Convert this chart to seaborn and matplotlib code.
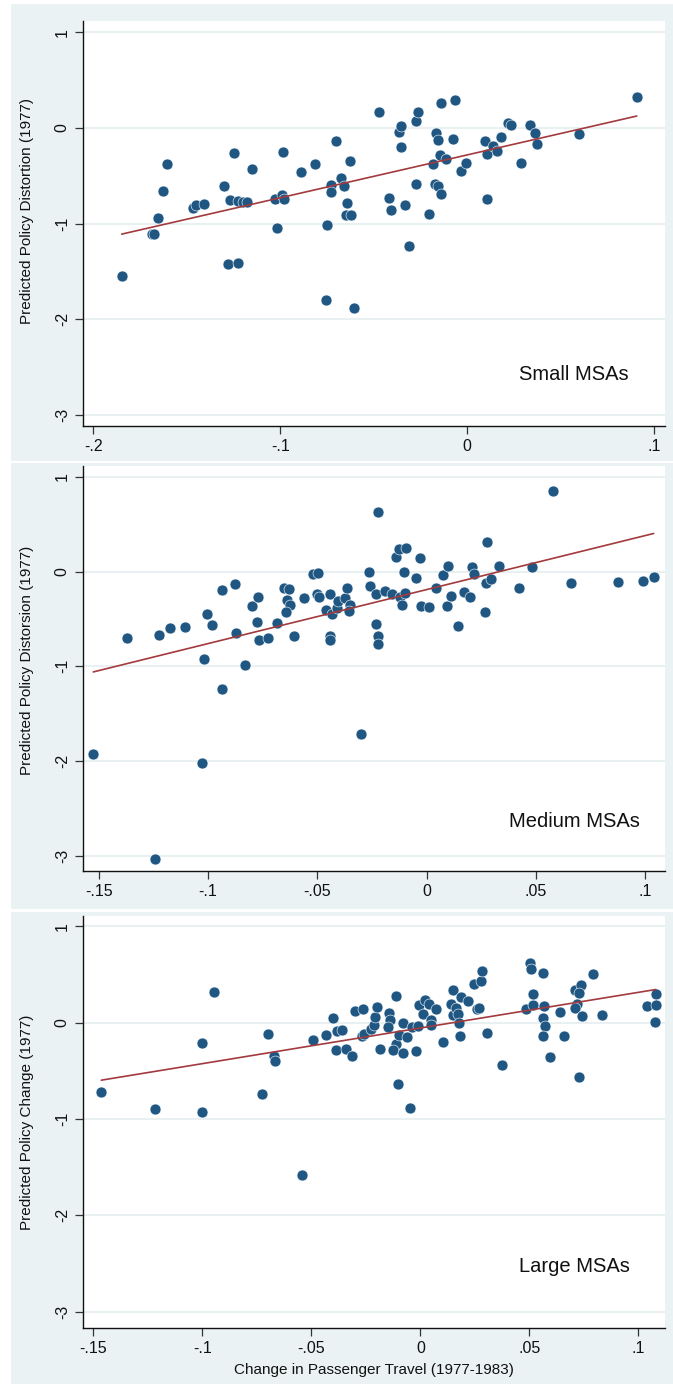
import numpy as np
import pandas as pd
import matplotlib
matplotlib.use("Agg")
import matplotlib.pyplot as plt
from matplotlib.patches import Rectangle
import seaborn as sns

# ---- data ----
small_x = [-0.1848, -0.1684, -0.1675, -0.1655, -0.1627, -0.1603, -0.1469, -0.1450, -0.1410, -0.1299,
           -0.1270, -0.1246, -0.1224, -0.1200, -0.1176, -0.1278, -0.1223, -0.1150, -0.1030, -0.1015,
           -0.0988, -0.0980, -0.0987, -0.0886, -0.0815, -0.0756, -0.0747, -0.0729, -0.0726, -0.0699,
           -0.0676, -0.0658, -0.0640, -0.0649, -0.0620, -0.0627, -0.0606, -0.0472, -0.0418, -0.0409,
           -0.0363, -0.0354, -0.0356, -0.0332, -0.0309, -0.0275, -0.0263, -0.0275, -0.0202, -0.0181,
           -0.0166, -0.0155, -0.0139, -0.0143, -0.0114, -0.0172, -0.0157, -0.0138, -0.0077, -0.0063,
           -0.0032, -0.0005, 0.0098, 0.0106, 0.0107, 0.0139, 0.0161, 0.0179, 0.0218, 0.0234,
           0.0288, 0.0336, 0.0365, 0.0372, 0.0600, 0.0908]
small_y = [-1.550, -1.110, -1.103, -0.945, -0.662, -0.376, -0.833, -0.808, -0.794, -0.603,
           -0.752, -0.258, -0.763, -0.777, -0.770, -1.418, -1.415, -0.430, -0.739, -1.045,
           -0.704, -0.739, -0.251, -0.460, -0.373, -1.800, -1.018, -0.592, -0.669, -0.136,
           -0.523, -0.610, -0.784, -0.906, -0.909, -0.350, -1.880, 0.167, -0.731, -0.857,
           -0.046, 0.024, -0.203, -0.809, -1.233, 0.076, 0.163, -0.582, -0.903, -0.380,
           -0.052, -0.122, 0.261, -0.282, -0.324, -0.585, -0.610, -0.694, -0.119, 0.296,
           -0.449, -0.366, -0.140, -0.739, -0.269, -0.192, -0.244, -0.094, 0.048, 0.027,
           -0.370, 0.031, -0.049, -0.164, -0.063, 0.320]

medium_x = [-0.1369, -0.1223, -0.1172, -0.1105, -0.1020, -0.1006, -0.0983, -0.0936, -0.0876, -0.0872,
            -0.0830, -0.0797, -0.0769, -0.0776, -0.0766, -0.0725, -0.0685, -0.0653, -0.0630, -0.0638,
            -0.0627, -0.0641, -0.0608, -0.0562, -0.0519, -0.0495, -0.0501, -0.0490, -0.0443, -0.0458,
            -0.0432, -0.0443, -0.0444, -0.0412, -0.0403, -0.0371, -0.0366, -0.0351, -0.0357, -0.0263,
            -0.0261, -0.0231, -0.0220, -0.0231, -0.0224, -0.0222, -0.0191, -0.0160, -0.0142, -0.0127,
            -0.0095, -0.0105, -0.0121, -0.0098, -0.0112, -0.0050, -0.0032, -0.0026, 0.0011, 0.0043,
            0.0075, 0.0096, 0.0092, 0.0111, 0.0145, 0.0172, 0.0198, 0.0207, 0.0215, 0.0267,
            0.0275, 0.0273, 0.0294, 0.0332, 0.0423, 0.0482, 0.0578, 0.0659, 0.0875, 0.0992,
            0.1039, -0.0934, -0.0298, -0.1525, -0.1027, -0.1244]
medium_y = [-0.703, -0.665, -0.591, -0.584, -0.924, -0.447, -0.563, -0.198, -0.132, -0.647,
            -0.991, -0.360, -0.268, -0.528, -0.721, -0.697, -0.542, -0.177, -0.187, -0.303,
            -0.353, -0.430, -0.675, -0.282, -0.026, -0.016, -0.240, -0.265, -0.240, -0.402,
            -0.451, -0.675, -0.721, -0.384, -0.310, -0.282, -0.174, -0.349, -0.413, -0.009,
            -0.153, -0.233, 0.623, -0.550, -0.675, -0.760, -0.209, -0.237, 0.153, 0.237,
            0.247, -0.005, -0.272, -0.226, -0.349, -0.068, 0.145, -0.363, -0.374, -0.170,
            -0.037, 0.061, -0.363, -0.261, -0.574, -0.216, -0.272, 0.044, -0.026, -0.430,
            0.311, -0.124, -0.082, 0.058, -0.177, 0.044, 0.847, -0.121, -0.107, -0.100,
            -0.061, -1.244, -1.718, -1.921, -2.019, -3.034]

large_x = [-0.1464, -0.1217, -0.1001, -0.1001, -0.0949, -0.0728, -0.0700, -0.0673, -0.0666, -0.0544,
           -0.0494, -0.0433, -0.0403, -0.0384, -0.0361, -0.0386, -0.0342, -0.0316, -0.0299, -0.0264,
           -0.0270, -0.0258, -0.0229, -0.0213, -0.0209, -0.0201, -0.0186, -0.0143, -0.0140, -0.0149,
           -0.0111, -0.0112, -0.0125, -0.0099, -0.0082, -0.0082, -0.0062, -0.0105, -0.0048, -0.0038,
           -0.0021, -0.0010, -0.0008, 0.0013, 0.0019, 0.0040, 0.0047, 0.0050, 0.0072, 0.0105,
           0.0138, 0.0149, 0.0148, 0.0164, 0.0173, 0.0177, 0.0181, 0.0187, 0.0217, 0.0247,
           0.0276, 0.0282, 0.0259, 0.0270, 0.0304, 0.0372, 0.0484, 0.0504, 0.0506, 0.0515,
           0.0517, 0.0563, 0.0567, 0.0563, 0.0570, 0.0562, 0.0595, 0.0641, 0.0657, 0.0709,
           0.0735, 0.0728, 0.0719, 0.0709, 0.0742, 0.0727, 0.0793, 0.0833, 0.1040, 0.1079,
           0.1080, 0.1077]
large_y = [-0.720, -0.900, -0.930, -0.211, 0.322, -0.744, -0.114, -0.343, -0.401, -1.582,
           -0.183, -0.124, 0.049, -0.083, -0.079, -0.280, -0.276, -0.343, 0.121, 0.139,
           -0.138, -0.117, -0.062, -0.024, 0.059, 0.160, -0.276, 0.104, 0.028, -0.042,
           0.277, -0.225, -0.280, -0.124, 0.000, -0.318, -0.145, -0.640, -0.882, -0.042,
           -0.290, -0.038, 0.180, 0.087, 0.235, 0.190, 0.028, -0.024, 0.139, -0.197,
           0.190, 0.336, 0.080, 0.153, 0.090, 0.000, -0.141, 0.264, 0.222, 0.399,
           0.436, 0.533, 0.139, 0.156, -0.104, -0.439, 0.139, 0.623, 0.554, 0.184,
           0.298, 0.516, 0.173, 0.052, -0.034, -0.135, -0.353, 0.108, -0.141, 0.340,
           0.395, 0.305, 0.191, 0.156, 0.070, -0.564, 0.509, 0.083, 0.177, 0.298,
           0.187, 0.007]

panel_names = ["Small MSAs", "Medium MSAs", "Large MSAs"]
y_titles = ["Predicted Policy Distortion (1977)", "Predicted Policy Distorsion (1977)",
            "Predicted Policy Change (1977)"]
x_title = "Change in Passenger Travel (1977-1983)"
y_ticks = [1, 0, -1, -2, -3]
x_ticks_small = [-0.2, -0.1, 0, 0.1]
x_ticks_other = [-0.15, -0.1, -0.05, 0, 0.05, 0.1]


def stata_fmt(v):
    # Stata drops the leading zero: -.15, .05
    return f"{v:g}".replace("0.", ".")


sns.set_theme(style="white")
plt.rcParams['font.family'] = ['Liberation Sans', 'DejaVu Sans']

W, H = 673, 1384
fig = plt.figure(figsize=(W / 100, H / 100), dpi=100)
bg = "#EAF2F3"
dot = "#1F5782"
fit = "#A33A3E"

# panel backgrounds, pixel rows (top, bottom)
for top, bot in [(4, 460.7), (463.3, 909), (912, 1384)]:
    fig.patches.append(Rectangle((11 / W, 1 - bot / H), 1 - 11 / W, (bot - top) / H,
                                 transform=fig.transFigure, facecolor=bg,
                                 edgecolor="none", zorder=-10))

panels = [
    dict(x=small_x, y=small_y, top=21.3, bot=425.5, xlim=(-0.2055, 0.1059), ylim=(-3.109, 1.115),
         xt=x_ticks_small, ly=0.53, ty=0.125),
    dict(x=medium_x, y=medium_y, top=466, bot=871, xlim=(-0.1572, 0.1091), ylim=(-3.159, 1.113),
         xt=x_ticks_other, ly=0.52, ty=0.121),
    dict(x=large_x, y=large_y, top=916, bot=1328, xlim=(-0.1548, 0.1122), ylim=(-3.17, 1.108),
         xt=x_ticks_other, ly=0.5, ty=0.15),
]

left, right = 83, 665
for i, p in enumerate(panels):
    ax = fig.add_axes([left / W, 1 - p["bot"] / H, (right - left) / W, (p["bot"] - p["top"]) / H])
    ax.set_zorder(1)
    ax.set_facecolor("white")
    df = pd.DataFrame({"x": p["x"], "y": p["y"]})

    sns.scatterplot(data=df, x="x", y="y", ax=ax, color=dot, s=62,
                    edgecolor="white", linewidth=0.4, zorder=3)
    sns.regplot(data=df, x="x", y="y", ax=ax, scatter=False, ci=None, truncate=True,
                color=fit, line_kws={"lw": 1.2, "zorder": 4})

    ax.set_xlim(*p["xlim"])
    ax.set_ylim(*p["ylim"])
    ax.set_xticks(p["xt"])
    ax.set_xticklabels([stata_fmt(v) for v in p["xt"]])
    ax.set_yticks(y_ticks)
    ax.set_yticklabels([stata_fmt(v) for v in y_ticks], rotation=90, va="center")

    ax.yaxis.grid(True, color="#E6EFF1", lw=1.3)
    ax.xaxis.grid(False)
    ax.set_axisbelow(True)
    sns.despine(ax=ax)
    for s in ["left", "bottom"]:
        ax.spines[s].set_color("#111111")
        ax.spines[s].set_linewidth(1.0)
    ax.tick_params(axis="both", bottom=True, left=True, direction="out", length=6,
                   width=0.9, color="#333333", labelsize=11.5, pad=3.5, labelcolor="#111111")

    ax.set_ylabel(y_titles[i], fontsize=11, va="center", color="#111111")
    ax.yaxis.set_label_coords((27 - left) / (right - left), p["ly"])
    if i == 2:
        ax.set_xlabel(x_title, fontsize=11, va="center", color="#111111")
        ax.xaxis.set_label_coords(0.5, (p["bot"] - 1370) / (p["bot"] - p["top"]))
    else:
        ax.set_xlabel("")

    ax.text(0.844, p["ty"], panel_names[i], transform=ax.transAxes, ha="center",
            va="center", fontsize=14.5, color="#111111")

fig.savefig("out.png", dpi=100, facecolor="white")
